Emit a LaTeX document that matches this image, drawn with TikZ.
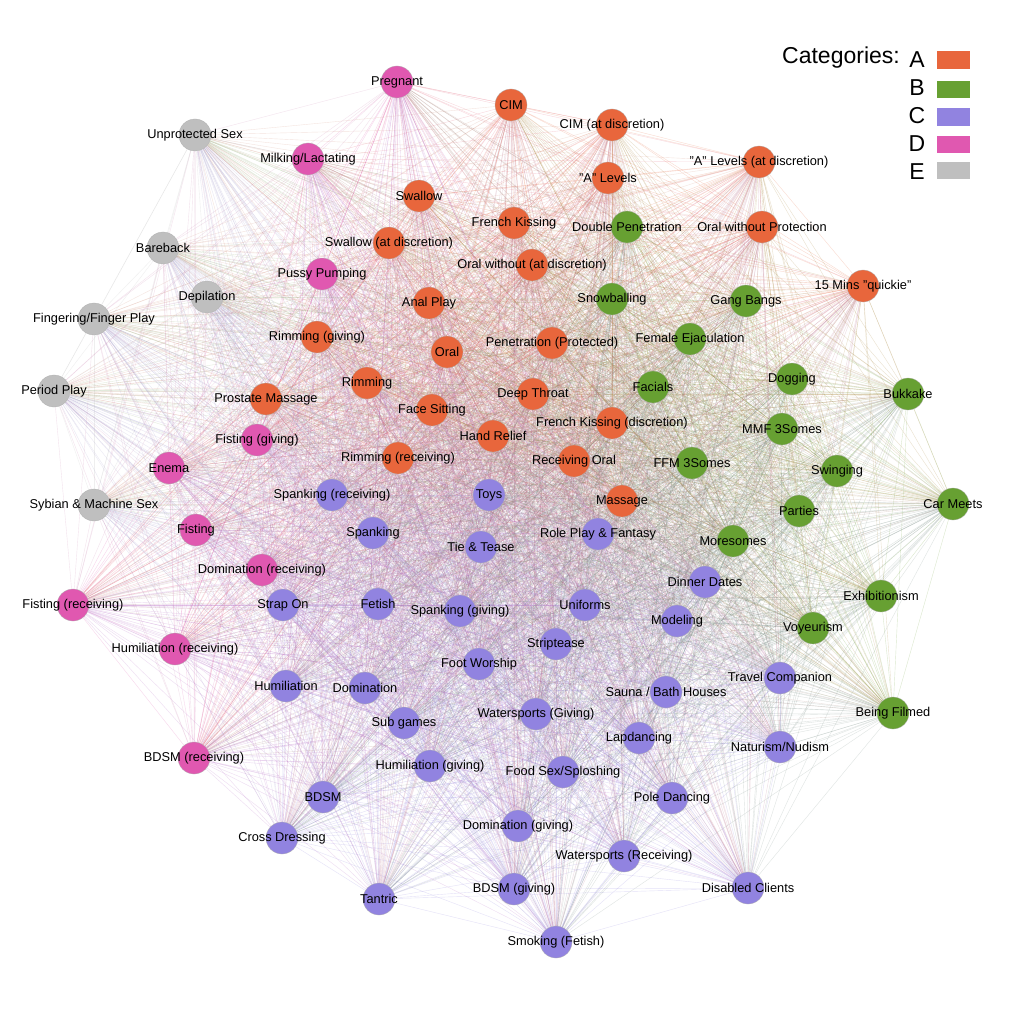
\documentclass[tikz,border=0pt]{standalone}
\usepackage{fontspec}
\setmainfont{Liberation Sans}
\pgfdeclarelayer{bg}
\pgfsetlayers{bg,main}
\definecolor{cA}{HTML}{E8663C}
\definecolor{cB}{HTML}{67A032}
\definecolor{cC}{HTML}{9183E0}
\definecolor{cD}{HTML}{E058B0}
\definecolor{cE}{HTML}{BFBFBF}
\colorlet{eAA}{cA}\colorlet{eBB}{cB}\colorlet{eCC}{cC}\colorlet{eDD}{cD}\colorlet{eEE}{cE}
\colorlet{eAB}{cA!50!cB}\colorlet{eAC}{cA!50!cC}\colorlet{eAD}{cA!50!cD}\colorlet{eAE}{cA!50!cE}
\colorlet{eBC}{cB!50!cC}\colorlet{eBD}{cB!50!cD}\colorlet{eBE}{cB!50!cE}
\colorlet{eCD}{cC!50!cD}\colorlet{eCE}{cC!50!cE}\colorlet{eDE}{cD!50!cE}
\tikzset{
  vtx/.style={circle, minimum size=32pt, inner sep=0pt, draw=black!30, line width=0.3pt},
  vA/.style={vtx, fill=cA}, vB/.style={vtx, fill=cB}, vC/.style={vtx, fill=cC},
  vD/.style={vtx, fill=cD}, vE/.style={vtx, fill=cE},
  lbl/.style={font=\fontsize{12.8}{14}\selectfont, text=black, inner sep=0pt},
  edge/.style={line width=0.4pt, draw opacity=0.24},
  legtxt/.style={font=\fontsize{23}{26}\selectfont, inner sep=0pt},
  legbox/.style={minimum width=33pt, minimum height=17.5pt, inner sep=0pt},
}
\newcommand\vx[5]{\node[v#1, label={[lbl]center:#5}] (#1#2) at (#3,#4) {};}
\newcommand\crossedges[4]{%
  \foreach \i in {1,...,#2}{\foreach \j in {1,...,#4}{\draw[edge, draw=e#1#3] (#1\i) -- (#3\j);}}}
\newcommand\withinedges[2]{%
  \foreach \i in {2,...,#2}{\pgfmathtruncatemacro\mm{\i-1}\foreach \j in {1,...,\mm}{\draw[edge, draw=e#1#1] (#1\i) -- (#1\j);}}}
\begin{document}
\begin{tikzpicture}[x=1pt, y=-1pt]
\useasboundingbox (0,0) rectangle (1024,1024);
% category A
\vx{A}{1}{511}{105}{CIM}
\vx{A}{2}{612}{125}{CIM (at discretion)}
\vx{A}{3}{608}{178}{"A" Levels}
\vx{A}{4}{759}{162}{"A" Levels (at discretion)}
\vx{A}{5}{419}{196}{Swallow}
\vx{A}{6}{514}{223}{French Kissing}
\vx{A}{7}{389}{243}{Swallow (at discretion)}
\vx{A}{8}{532}{265}{Oral without (at discretion)}
\vx{A}{9}{762}{227}{Oral without Protection}
\vx{A}{10}{863}{286}{15 Mins "quickie"}
\vx{A}{11}{429}{303}{Anal Play}
\vx{A}{12}{317}{337}{Rimming (giving)}
\vx{A}{13}{447}{352}{Oral}
\vx{A}{14}{552}{343}{Penetration (Protected)}
\vx{A}{15}{367}{383}{Rimming}
\vx{A}{16}{266}{399}{Prostate Massage}
\vx{A}{17}{533}{394}{Deep Throat}
\vx{A}{18}{432}{410}{Face Sitting}
\vx{A}{19}{612}{423}{French Kissing (discretion)}
\vx{A}{20}{493}{436}{Hand Relief}
\vx{A}{21}{398}{458}{Rimming (receiving)}
\vx{A}{22}{574}{461}{Receiving Oral}
\vx{A}{23}{622}{501}{Massage}
% category B
\vx{B}{1}{627}{227}{Double Penetration}
\vx{B}{2}{612}{299}{Snowballing}
\vx{B}{3}{746}{301}{Gang Bangs}
\vx{B}{4}{690}{339}{Female Ejaculation}
\vx{B}{5}{792}{379}{Dogging}
\vx{B}{6}{653}{387}{Facials}
\vx{B}{7}{908}{394}{Bukkake}
\vx{B}{8}{782}{429}{MMF 3Somes}
\vx{B}{9}{692}{463}{FFM 3Somes}
\vx{B}{10}{837}{471}{Swinging}
\vx{B}{11}{799}{511}{Parties}
\vx{B}{12}{953}{504}{Car Meets}
\vx{B}{13}{733}{541}{Moresomes}
\vx{B}{14}{881}{596}{Exhibitionism}
\vx{B}{15}{813}{628}{Voyeurism}
\vx{B}{16}{893}{713}{Being Filmed}
% category C
\vx{C}{1}{332}{495}{Spanking (receiving)}
\vx{C}{2}{489}{495}{Toys}
\vx{C}{3}{373}{533}{Spanking}
\vx{C}{4}{481}{547}{Tie \& Tease}
\vx{C}{5}{598}{534}{Role Play \& Fantasy}
\vx{C}{6}{705}{582}{Dinner Dates}
\vx{C}{7}{283}{605}{Strap On}
\vx{C}{8}{378}{604}{Fetish}
\vx{C}{9}{460}{611}{Spanking (giving)}
\vx{C}{10}{585}{605}{Uniforms}
\vx{C}{11}{677}{621}{Modeling}
\vx{C}{12}{556}{644}{Striptease}
\vx{C}{13}{479}{664}{Foot Worship}
\vx{C}{14}{286}{686}{Humiliation}
\vx{C}{15}{365}{688}{Domination}
\vx{C}{16}{666}{692}{Sauna / Bath Houses}
\vx{C}{17}{780}{678}{Travel Companion}
\vx{C}{18}{404}{723}{Sub games}
\vx{C}{19}{536}{714}{Watersports (Giving)}
\vx{C}{20}{639}{738}{Lapdancing}
\vx{C}{21}{780}{747}{Naturism/Nudism}
\vx{C}{22}{430}{766}{Humiliation (giving)}
\vx{C}{23}{563}{772}{Food Sex/Sploshing}
\vx{C}{24}{323}{797}{BDSM}
\vx{C}{25}{672}{798}{Pole Dancing}
\vx{C}{26}{518}{826}{Domination (giving)}
\vx{C}{27}{282}{838}{Cross Dressing}
\vx{C}{28}{624}{856}{Watersports (Receiving)}
\vx{C}{29}{748}{888}{Disabled Clients}
\vx{C}{30}{514}{889}{BDSM (giving)}
\vx{C}{31}{379}{899}{Tantric}
\vx{C}{32}{556}{942}{Smoking (Fetish)}
% category D
\vx{D}{1}{397}{82}{Pregnant}
\vx{D}{2}{308}{159}{Milking/Lactating}
\vx{D}{3}{322}{274}{Pussy Pumping}
\vx{D}{4}{257}{440}{Fisting (giving)}
\vx{D}{5}{169}{468}{Enema}
\vx{D}{6}{196}{530}{Fisting}
\vx{D}{7}{262}{570}{Domination (receiving)}
\vx{D}{8}{73}{605}{Fisting (receiving)}
\vx{D}{9}{175}{649}{Humiliation (receiving)}
\vx{D}{10}{194}{758}{BDSM (receiving)}
% category E
\vx{E}{1}{195}{135}{Unprotected Sex}
\vx{E}{2}{163}{248}{Bareback}
\vx{E}{3}{207}{297}{Depilation}
\vx{E}{4}{94}{319}{Fingering/Finger Play}
\vx{E}{5}{54}{391}{Period Play}
\vx{E}{6}{94}{505}{Sybian \& Machine Sex}
% legend
\node[legtxt, anchor=base east] (cat) at (900,64) {Categories:};
\node[legtxt, anchor=base] (lA) at (917,68) {A};
\node[legtxt, anchor=base] (lB) at (917,96) {B};
\node[legtxt, anchor=base] (lC) at (917,124) {C};
\node[legtxt, anchor=base] (lD) at (917,152) {D};
\node[legtxt, anchor=base] (lE) at (917,180) {E};
\node[legbox, fill=cA] (kA) at (953.5,60) {};
\node[legbox, fill=cB] (kB) at (953.5,89.5) {};
\node[legbox, fill=cC] (kC) at (953.5,117) {};
\node[legbox, fill=cD] (kD) at (953.5,144.5) {};
\node[legbox, fill=cE] (kE) at (953.5,170.5) {};
% edges
\begin{pgfonlayer}{bg}
\fill[white] (0,0) rectangle (1024,1024);
\withinedges{A}{23}\withinedges{B}{16}\withinedges{C}{32}\withinedges{D}{10}\withinedges{E}{6}
\crossedges{A}{23}{B}{16}\crossedges{A}{23}{C}{32}\crossedges{A}{23}{D}{10}\crossedges{A}{23}{E}{6}
\crossedges{B}{16}{C}{32}\crossedges{B}{16}{D}{10}\crossedges{B}{16}{E}{6}
\crossedges{C}{32}{D}{10}\crossedges{C}{32}{E}{6}
\crossedges{D}{10}{E}{6}
\end{pgfonlayer}
\end{tikzpicture}
\end{document}
